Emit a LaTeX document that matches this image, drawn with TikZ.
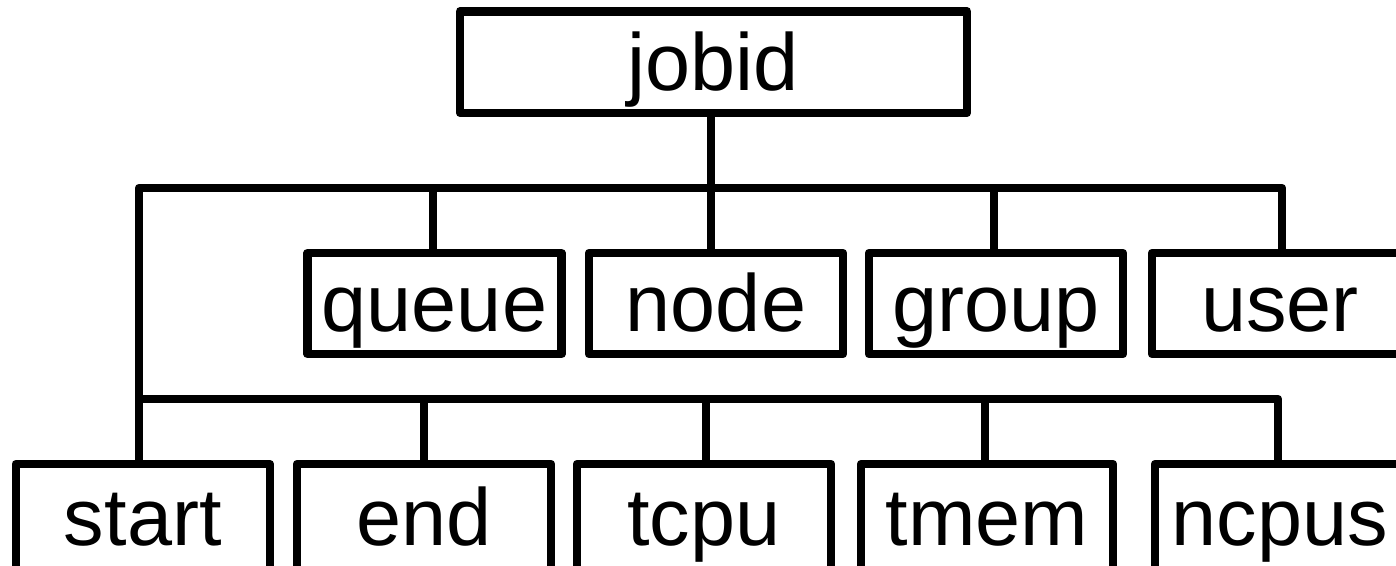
\documentclass[tikz,border=0pt]{standalone}
\usepackage{fontspec}
\setmainfont{Liberation Sans}
\begin{document}
\begin{tikzpicture}[x=1pt,y=-1pt,
  field/.style={draw=black, line width=8.5pt, line join=round, fill=white,
    inner sep=0pt, outer sep=0pt, minimum width=254pt, minimum height=101pt,
    font=\fontsize{81}{94}\selectfont, text height=61pt, text depth=5pt},
  link/.style={draw=black, line width=8.5pt, line join=round}]
\useasboundingbox (0,0) rectangle (1396,565);
\clip (0,0) rectangle (1396,565);

% bus lines
\coordinate (tl) at (139,188);
\coordinate (tr) at (1282,188);
\coordinate (bl) at (139,399);
\coordinate (br) at (1278,399);

% boxes
\node[field, minimum width=507pt, minimum height=101.5pt] (jobid) at (713.5,62) {jobid};
\node[field] (queue) at (434.5,303.5) {queue};
\node[field] (node)  at (716,303.5) {node};
\node[field] (group) at (996,303.5) {group};
\node[field, minimum width=256pt] (user)  at (1280,303.5) {user};
\node[field, minimum height=106pt] (start) at (142.75,517) {start};
\node[field, minimum height=106pt] (end)   at (424,517) {end};
\node[field, minimum height=106pt] (tcpu)  at (704,517) {tcpu};
\node[field, minimum width=252pt, minimum height=106pt] (tmem)  at (987,517) {tmem};
\node[field, minimum width=250pt, minimum height=106pt] (ncpus) at (1280,517) {ncpus};

% connectors
\draw[link] ([xshift=-5pt]node.north) -- ([xshift=-5pt]node.north |- jobid.south);
\draw[link] ([xshift=-3.75pt]start.north) |- (tr) -- ([xshift=2pt]user.north);
\draw[link] ([xshift=-1.5pt]queue.north) -- ([xshift=-1.5pt]queue.north |- tl);
\draw[link] ([xshift=-2pt]group.north) -- ([xshift=-2pt]group.north |- tl);
\draw[link] (bl) -- (br) -- (br |- ncpus.north);
\draw[link] (end.north) -- (end.north |- bl);
\draw[link] ([xshift=2pt]tcpu.north) -- ([xshift=2pt]tcpu.north |- bl);
\draw[link] ([xshift=-2pt]tmem.north) -- ([xshift=-2pt]tmem.north |- bl);
\end{tikzpicture}
\end{document}
